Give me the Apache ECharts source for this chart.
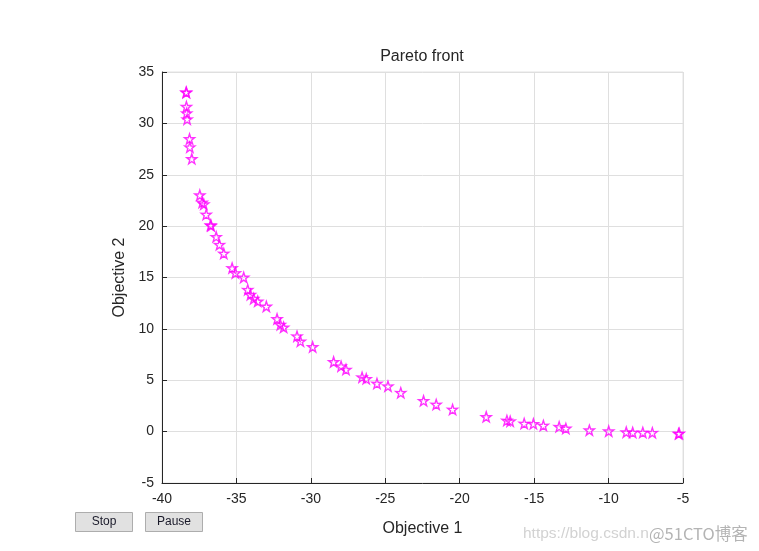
<!DOCTYPE html>
<html>
<head>
<meta charset="utf-8">
<script src="https://cdn.jsdelivr.net/npm/echarts@6/dist/echarts.min.js"></script>
<style>html,body{margin:0;padding:0;background:#fff;}#c{width:759px;height:551px;}</style>
</head>
<body>
<div id="c"></div>
<script>
const objective1 = [-38.38,-38.36,-38.36,-38.34,-38.31,-38.15,-38.13,-38.0,-37.46,-37.30,-37.19,-37.03,-36.74,-36.70,-36.36,-36.14,-35.85,-35.29,-35.07,-34.51,-34.24,-34.06,-33.84,-33.57,-32.99,-32.27,-32.05,-31.83,-30.93,-30.70,-29.88,-28.47,-27.97,-27.64,-26.56,-26.28,-25.56,-24.82,-23.96,-22.43,-21.58,-20.48,-18.22,-16.83,-16.61,-15.67,-15.05,-14.38,-13.32,-12.87,-11.29,-9.99,-8.81,-8.38,-7.70,-7.06,-5.25,-5.30];
const objective2 = [33.03,33.00,31.63,30.99,30.40,28.49,27.68,26.55,23.02,22.30,22.14,21.13,20.10,20.05,18.96,18.19,17.34,15.92,15.44,15.01,13.81,13.33,12.94,12.68,12.19,10.97,10.41,10.15,9.28,8.79,8.25,6.79,6.36,6.04,5.29,5.14,4.68,4.42,3.78,3.00,2.64,2.15,1.44,1.08,1.01,0.79,0.76,0.60,0.47,0.31,0.14,0.05,-0.05,-0.08,-0.08,-0.11,-0.18,-0.21];
const xTicks = {min: -40, max: -5, interval: 5};
const yTicks = {min: -5, max: 35, interval: 5};
const titleText = 'Pareto front';
const xName = 'Objective 1';
const yName = 'Objective 2';

const pts = objective1.map((x, i) => [x, objective2[i]]);
const star = 'path://M50,0 L61.8,35.1 L97.6,34.5 L69,56.7 L79.4,90.5 L50,70 L20.6,90.5 L31,56.7 L2.4,34.5 L38.2,35.1 Z';
const font = 'Liberation Sans, Arial, Helvetica, sans-serif';
const chart = echarts.init(document.getElementById('c'), null, {renderer: 'canvas'});
chart.setOption({
  animation: false,
  backgroundColor: '#ffffff',
  grid: {left: 162, top: 72, right: 76, bottom: 68, show: true, borderColor: '#e3e3e3', borderWidth: 1, backgroundColor: 'transparent'},
  xAxis: {
    type: 'value', min: xTicks.min, max: xTicks.max, interval: xTicks.interval,
    name: xName, nameLocation: 'middle', nameGap: 38,
    nameTextStyle: {fontFamily: font, fontSize: 16, color: '#262626'},
    axisLine: {show: true, onZero: false, lineStyle: {color: '#262626', width: 1}},
    axisTick: {show: true, inside: true, length: 5, lineStyle: {color: '#262626'}},
    axisLabel: {fontFamily: font, fontSize: 14, color: '#262626', margin: 9},
    splitLine: {show: true, lineStyle: {color: '#dfdfdf', width: 1}}
  },
  yAxis: {
    type: 'value', min: yTicks.min, max: yTicks.max, interval: yTicks.interval,
    name: yName, nameLocation: 'middle', nameGap: 26, nameRotate: 90,
    nameTextStyle: {fontFamily: font, fontSize: 16, color: '#262626'},
    axisLine: {show: true, onZero: false, lineStyle: {color: '#262626', width: 1}},
    axisTick: {show: true, inside: true, length: 5, lineStyle: {color: '#262626'}},
    axisLabel: {fontFamily: font, fontSize: 14, color: '#262626', margin: 8},
    splitLine: {show: true, lineStyle: {color: '#dfdfdf', width: 1}}
  },
  series: [{
    type: 'scatter',
    data: pts,
    symbol: star,
    symbolSize: 10,
    itemStyle: {color: 'rgba(255,255,255,0)', borderColor: '#ff00ff', borderWidth: 1.4}
  }],
  graphic: [
    {type: 'text', x: 422, y: 57, style: {text: titleText, fontFamily: font, fontSize: 16, fill: '#262626', textAlign: 'center', textVerticalAlign: 'middle'}},
    {type: 'rect', shape: {x: 75.5, y: 512.5, width: 57, height: 19}, style: {fill: '#e1e1e1', stroke: '#adadad', lineWidth: 1}},
    {type: 'text', x: 104, y: 522, style: {text: 'Stop', fontFamily: font, fontSize: 12, fill: '#1a1a2a', textAlign: 'center', textVerticalAlign: 'middle'}},
    {type: 'rect', shape: {x: 145.5, y: 512.5, width: 57, height: 19}, style: {fill: '#e1e1e1', stroke: '#adadad', lineWidth: 1}},
    {type: 'text', x: 174, y: 522, style: {text: 'Pause', fontFamily: font, fontSize: 12, fill: '#1a1a2a', textAlign: 'center', textVerticalAlign: 'middle'}},
    {type: 'text', x: 523, y: 534, style: {text: 'https://blog.csdn.n', fontFamily: font, fontSize: 15.5, fill: '#d2d2d2', textAlign: 'left', textVerticalAlign: 'middle'}},
    {type: 'text', x: 649, y: 534, style: {text: '@51CTO博客', fontFamily: 'Noto Sans CJK SC, sans-serif', fontSize: 16.5, fill: '#b4b4b4', textAlign: 'left', textVerticalAlign: 'middle'}}
  ]
});
</script>
</body>
</html>
